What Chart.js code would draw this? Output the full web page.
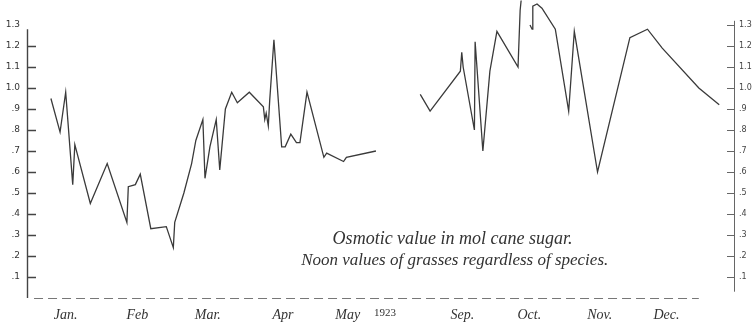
<!DOCTYPE html>
<html>
<head>
<meta charset="utf-8">
<script src="https://cdn.jsdelivr.net/npm/chart.js@4/dist/chart.umd.min.js"></script>
<style>
  html, body { margin: 0; padding: 0; background: #fff; }
  #wrap { width: 753px; height: 323px; position: relative; }
</style>
</head>
<body>
<div id="wrap"><canvas id="osmo"></canvas></div>
<script>
// ---------- Data (x in month units from start of Jan, Jun-Aug compressed) ----------
var monthLabels = ['Jan.', 'Feb', 'Mar.', 'Apr', 'May', '1923', 'Sep.', 'Oct.', 'Nov.', 'Dec.'];
var monthPos = [0.50, 1.52, 2.52, 3.59, 4.51, 5.04, 6.14, 7.09, 8.09, 9.04];

var janMayX = [0.29, 0.42, 0.50, 0.60, 0.63, 0.85, 1.09, 1.37, 1.39, 1.49, 1.56, 1.71, 1.93, 2.03, 2.05,
  2.18, 2.29, 2.35, 2.45, 2.48, 2.55, 2.64, 2.69, 2.77, 2.86, 2.94, 3.11, 3.31, 3.33, 3.35, 3.38, 3.40,
  3.46, 3.57, 3.62, 3.70, 3.78, 3.83, 3.93, 4.17, 4.21, 4.45, 4.49, 4.91];
var janMayY = [0.95, 0.79, 0.98, 0.54, 0.73, 0.45, 0.64, 0.36, 0.53, 0.54, 0.59, 0.33, 0.34, 0.24, 0.36,
  0.50, 0.64, 0.75, 0.85, 0.57, 0.72, 0.85, 0.61, 0.90, 0.98, 0.93, 0.98, 0.91, 0.85, 0.88, 0.82, 0.94,
  1.23, 0.72, 0.72, 0.78, 0.74, 0.74, 0.98, 0.67, 0.69, 0.65, 0.67, 0.70];

var sepDecX = [5.54, 5.68, 6.11, 6.13, 6.15, 6.31, 6.32, 6.35, 6.43, 6.53, 6.63, 6.93, 6.96, 6.975,
  7.10, 7.13, 7.14, 7.20, 7.27, 7.46, 7.65, 7.73, 8.06, 8.52, 8.77, 8.98, 9.50, 9.79];
var sepDecY = [0.97, 0.89, 1.08, 1.17, 1.10, 0.80, 1.22, 1.08, 0.70, 1.08, 1.27, 1.10, 1.37, 1.42,
  1.30, 1.28, 1.39, 1.40, 1.38, 1.28, 0.89, 1.27, 0.60, 1.24, 1.28, 1.19, 1.00, 0.92];

var noteLines = ['Osmotic value in mol cane sugar.', 'Noon values of grasses regardless of species.'];

// ---------- Build points ----------
var points = [];
janMayX.forEach(function (x, i) { points.push({ x: x, y: janMayY[i] }); });
points.push({ x: 5.2, y: null });
sepDecX.forEach(function (x, i) {
  points.push({ x: x, y: sepDecY[i] });
  if (x === 6.975) points.push({ x: 7.03, y: null }); // pen lifts near Oct. peak
});

var ink = '#3a3a3a';

function tickText(v) {
  var t = Math.round(v * 10);
  if (t <= 0 || t >= 14) return '';
  if (t >= 10) return (t / 10).toFixed(1);
  return '.' + t;
}

// axis lines, inward ticks, dashed baseline and the handwritten note
var paperPlugin = {
  id: 'paper',
  afterDraw: function (chart) {
    var ctx = chart.ctx;
    var y = chart.scales.y;
    var x = chart.scales.x;
    ctx.save();
    ctx.strokeStyle = '#444';
    ctx.lineWidth = 1.4;

    // left axis
    ctx.beginPath();
    ctx.moveTo(27.5, y.getPixelForValue(1.28));
    ctx.lineTo(27.5, y.getPixelForValue(0));
    for (var i = 1; i <= 12; i++) {
      var py = Math.round(y.getPixelForValue(i / 10)) + 0.5;
      ctx.moveTo(27, py);
      ctx.lineTo(36, py);
    }
    ctx.stroke();

    // right axis
    ctx.lineWidth = 1;
    ctx.strokeStyle = '#666';
    ctx.beginPath();
    ctx.moveTo(734.5, y.getPixelForValue(1.32));
    ctx.lineTo(734.5, y.getPixelForValue(0.03));
    for (var j = 1; j <= 13; j++) {
      var ry = Math.round(y.getPixelForValue(j / 10)) + 0.5;
      ctx.moveTo(727, ry);
      ctx.lineTo(734, ry);
    }
    ctx.stroke();

    // dashed baseline
    var by = Math.round(y.getPixelForValue(0)) + 0.5;
    ctx.setLineDash([9, 5]);
    ctx.strokeStyle = '#777';
    ctx.beginPath();
    ctx.moveTo(x.getPixelForValue(0.05), by);
    ctx.lineTo(x.getPixelForValue(9.5), by);
    ctx.stroke();
    ctx.setLineDash([]);

    // note
    ctx.fillStyle = '#333';
    ctx.textAlign = 'center';
    ctx.textBaseline = 'middle';
    ctx.font = "italic 18px 'Liberation Serif', 'DejaVu Serif', serif";
    ctx.fillText(noteLines[0], x.getPixelForValue(6.0), y.getPixelForValue(0.28));
    ctx.font = "italic 17px 'Liberation Serif', 'DejaVu Serif', serif";
    ctx.fillText(noteLines[1], x.getPixelForValue(6.03), y.getPixelForValue(0.18));
    ctx.restore();
  }
};

new Chart(document.getElementById('osmo'), {
  type: 'line',
  data: {
    datasets: [{
      data: points,
      borderColor: ink,
      borderWidth: 1.3,
      pointRadius: 0,
      tension: 0,
      spanGaps: false,
      fill: false,
      clip: { left: 5, top: 12, right: 5, bottom: 5 }
    }]
  },
  options: {
    responsive: true,
    maintainAspectRatio: false,
    animation: false,
    layout: { padding: 0 },
    plugins: { legend: { display: false }, tooltip: { enabled: false } },
    scales: {
      x: {
        type: 'linear',
        min: -0.05,
        max: 10,
        grid: { display: false },
        border: { display: false },
        afterBuildTicks: function (scale) {
          scale.ticks = monthPos.map(function (v) { return { value: v }; });
        },
        afterFit: function (scale) { scale.height = 25; },
        ticks: {
          autoSkip: false,
          maxRotation: 0,
          padding: 1,
          color: '#333',
          font: function (c) {
            var small = c.tick && c.tick.value === 5.04;
            return { family: "'Liberation Serif', 'DejaVu Serif', serif", style: small ? 'normal' : 'italic', size: small ? 11 : 14 };
          },
          callback: function (v, i) { return monthLabels[i]; }
        }
      },
      y: {
        position: 'left',
        min: 0,
        max: 1.36,
        grid: { display: false, drawTicks: false },
        border: { display: false },
        afterFit: function (scale) { scale.width = 27; },
        ticks: {
          stepSize: 0.1,
          padding: 7,
          color: '#333',
          font: { family: "'DejaVu Sans', sans-serif", size: 9 },
          callback: tickText
        }
      },
      y1: {
        position: 'right',
        min: 0,
        max: 1.36,
        grid: { display: false, drawTicks: false },
        border: { display: false },
        afterFit: function (scale) { scale.width = 19; },
        ticks: {
          stepSize: 0.1,
          padding: 5,
          color: '#444',
          font: { family: "'DejaVu Sans', sans-serif", size: 8 },
          callback: tickText
        }
      }
    }
  },
  plugins: [paperPlugin]
});
</script>
</body>
</html>
